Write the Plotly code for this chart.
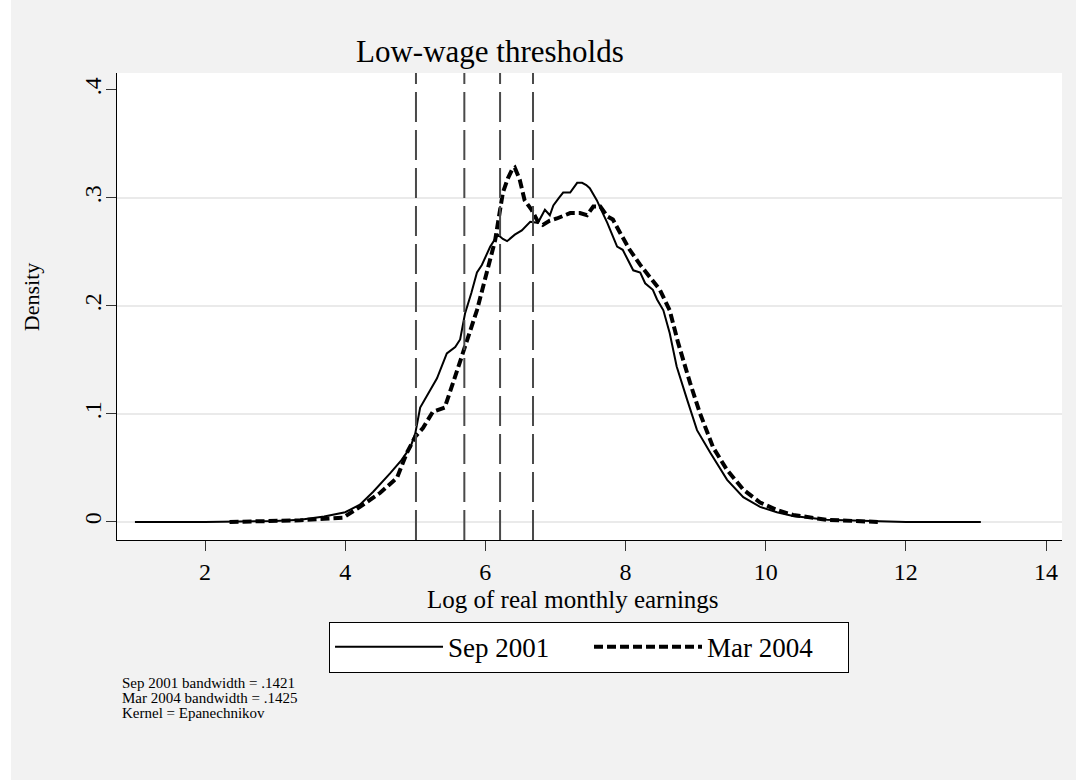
import plotly.graph_objects as go

# ---- data ----
sep2001_x = [1.0, 2.0, 3.0, 3.36, 3.7, 4.0, 4.21, 4.4, 4.64, 4.8, 4.93, 5.0, 5.07, 5.2, 5.31,
             5.45, 5.57, 5.64, 5.71, 5.8, 5.88, 5.95, 6.07, 6.18, 6.25, 6.31, 6.42, 6.52, 6.64,
             6.75, 6.85, 6.92, 6.97, 7.05, 7.11, 7.21, 7.31, 7.38, 7.44, 7.49, 7.59, 7.66, 7.74,
             7.88, 7.96, 8.11, 8.21, 8.28, 8.39, 8.45, 8.54, 8.63, 8.73, 8.88, 9.02, 9.21, 9.45,
             9.68, 9.92, 10.16, 10.39, 10.87, 11.3, 11.6, 12.0, 13.07]
sep2001_y = [0, 0, 0.001, 0.002, 0.005, 0.009, 0.016, 0.028, 0.045, 0.057, 0.069, 0.082, 0.106,
             0.12, 0.133, 0.156, 0.162, 0.169, 0.193, 0.212, 0.231, 0.238, 0.255, 0.266, 0.262,
             0.260, 0.266, 0.270, 0.278, 0.277, 0.289, 0.284, 0.293, 0.300, 0.305, 0.305, 0.314,
             0.314, 0.312, 0.309, 0.298, 0.288, 0.277, 0.255, 0.252, 0.233, 0.231, 0.221, 0.215,
             0.206, 0.196, 0.175, 0.144, 0.113, 0.085, 0.064, 0.039, 0.023, 0.014, 0.009, 0.0056,
             0.002, 0.001, 0.0003, 0, 0]

mar2004_x = [2.35, 3.0, 3.36, 3.7, 3.97, 4.21, 4.5, 4.74, 4.88, 5.0, 5.11, 5.25, 5.42, 5.54,
             5.68, 5.88, 6.02, 6.14, 6.25, 6.32, 6.38, 6.42, 6.49, 6.56, 6.66, 6.75, 6.82, 6.92,
             7.02, 7.21, 7.35, 7.45, 7.54, 7.64, 7.74, 7.82, 7.92, 8.06, 8.21, 8.35, 8.49, 8.63,
             8.75, 8.92, 9.06, 9.25, 9.45, 9.68, 9.92, 10.16, 10.39, 10.87, 11.2, 11.6]
mar2004_y = [0, 0.0008, 0.0015, 0.003, 0.004, 0.014, 0.027, 0.041, 0.064, 0.079, 0.087, 0.102,
             0.106, 0.129, 0.156, 0.196, 0.231, 0.261, 0.305, 0.318, 0.326, 0.328, 0.317, 0.298,
             0.289, 0.278, 0.275, 0.279, 0.281, 0.286, 0.286, 0.284, 0.292, 0.292, 0.283, 0.280,
             0.268, 0.252, 0.238, 0.226, 0.215, 0.196, 0.166, 0.129, 0.101, 0.069, 0.048, 0.030,
             0.018, 0.011, 0.0065, 0.002, 0.0008, 0]

thresholds = [5.01, 5.70, 6.21, 6.68]

x_ticks = [2, 4, 6, 8, 10, 12, 14]
y_ticks = [0, 0.1, 0.2, 0.3, 0.4]
y_ticktext = ["0", ".1", ".2", ".3", ".4"]
grid_vals = [0, 0.1, 0.2, 0.3]

series_names = ["Sep 2001", "Mar 2004"]
notes = ["Sep 2001 bandwidth = .1421", "Mar 2004 bandwidth = .1425", "Kernel = Epanechnikov"]

FONT = "Liberation Serif, Times New Roman, serif"

fig = go.Figure()
fig.add_trace(go.Scatter(x=sep2001_x, y=sep2001_y, mode="lines", name=series_names[0],
                         line=dict(color="black", width=2)))
fig.add_trace(go.Scatter(x=mar2004_x, y=mar2004_y, mode="lines", name=series_names[1],
                         line=dict(color="black", width=4, dash="9px,4px")))

shapes = []
# left white border strip
shapes.append(dict(type="rect", xref="paper", yref="paper", x0=-0.124, x1=-0.1122,
                   y0=-0.52, y1=1.16, fillcolor="white", line=dict(width=0), layer="below"))
for g in grid_vals:
    shapes.append(dict(type="line", xref="paper", yref="y", x0=0, x1=1, y0=g, y1=g,
                       line=dict(color="#eaeaea", width=2), layer="below"))
for t in thresholds:
    shapes.append(dict(type="line", xref="x", yref="paper", x0=t, x1=t, y0=0, y1=1,
                       line=dict(color="#4a4a4a", width=2, dash="30px,8px")))

annotations = [
    dict(text="Low-wage thresholds", xref="paper", yref="paper", x=0.395, y=1.045,
         showarrow=False, font=dict(family=FONT, size=31, color="black"),
         xanchor="center", yanchor="middle"),
    dict(text="Density", xref="paper", yref="paper", x=-0.091, y=0.52, textangle=-90,
         showarrow=False, font=dict(family=FONT, size=22, color="black"),
         xanchor="center", yanchor="middle"),
    dict(text="Log of real monthly earnings", xref="paper", yref="paper", x=0.483, y=-0.128,
         showarrow=False, font=dict(family=FONT, size=25, color="black"),
         xanchor="center", yanchor="middle"),
]
note_y = [-0.306, -0.338, -0.370]
for txt, ny in zip(notes, note_y):
    annotations.append(dict(text=txt, xref="paper", yref="paper", x=0.003, y=ny,
                            showarrow=False, align="left",
                            font=dict(family=FONT, size=15, color="black"),
                            xanchor="left", yanchor="middle"))

fig.update_layout(
    width=1076, height=780,
    margin=dict(l=117, r=14, t=73, b=240),
    paper_bgcolor="#f2f2f2", plot_bgcolor="white",
    font=dict(family=FONT, size=20, color="black"),
    shapes=shapes, annotations=annotations,
    showlegend=True,
    legend=dict(orientation="h", x=0.4995, xanchor="center", y=-0.175, yanchor="top",
                bgcolor="white", bordercolor="black", borderwidth=1,
                font=dict(family=FONT, size=27, color="black"),
                itemwidth=108, entrywidth=136, entrywidthmode="pixels"),
    xaxis=dict(range=[0.744, 14.228], tickvals=x_ticks, showgrid=False, zeroline=False,
               showline=True, linecolor="black", linewidth=1, ticks="outside", ticklen=10,
               tickcolor="#333", tickfont=dict(family=FONT, size=24), mirror=False),
    yaxis=dict(range=[-0.0167, 0.4157], tickvals=y_ticks, ticktext=y_ticktext, tickangle=-90,
               showgrid=False, zeroline=False, showline=True, linecolor="black", linewidth=1,
               ticks="outside", ticklen=10, tickcolor="#333", tickfont=dict(family=FONT, size=24),
               ticklabelstandoff=-5),
)

fig.write_html(
    "out.html",
    config={"displayModeBar": False},
    post_script=("document.body.style.margin='0';document.body.style.overflow='hidden';"
                 "document.body.style.background='#f2f2f2';"
                 "document.documentElement.style.background='#f2f2f2';"),
)
